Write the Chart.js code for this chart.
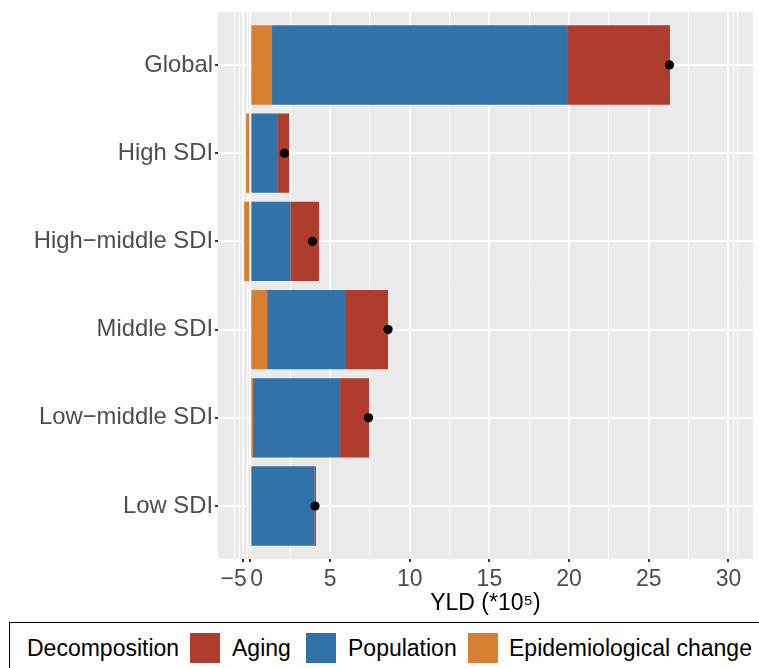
<!DOCTYPE html>
<html>
<head>
<meta charset="utf-8">
<script src="https://cdn.jsdelivr.net/npm/chart.js@4.4.0/dist/chart.umd.min.js"></script>
<style>
  html, body { margin: 0; padding: 0; overflow: hidden; background: #fff; }
  body { font-family: "Liberation Sans", Arial, sans-serif; width: 759px; height: 668px; position: relative; }
  #chart { position: absolute; left: 0; top: 0; }
  #legend { position: absolute; left: 9px; top: 622px; width: 800px; height: 70px;
            border: 1.5px solid #000; box-sizing: border-box; }
  .lg-text { position: absolute; top: 633px; height: 30px; line-height: 30px; font-size: 23px; color: #000; white-space: nowrap; }
  .lg-key { position: absolute; top: 633px; width: 30px; height: 30px; }
</style>
</head>
<body>
<canvas id="chart" width="759" height="620"></canvas>
<div id="legend"></div>
<div class="lg-text" style="left:27px">Decomposition</div>
<div class="lg-key" id="key0" style="left:190px"></div>
<div class="lg-text" style="left:232px">Aging</div>
<div class="lg-key" id="key1" style="left:306px"></div>
<div class="lg-text" style="left:348px">Population</div>
<div class="lg-key" id="key2" style="left:468px"></div>
<div class="lg-text" style="left:509px">Epidemiological change</div>

<script>
// Decomposition of YLD change by SDI region (units: *10^5)
const categories = ['Global', 'High SDI', 'High\u2212middle SDI', 'Middle SDI', 'Low\u2212middle SDI', 'Low SDI'];
const aging = [6.40, 0.75, 1.80, 2.64, 1.82, 0.10];
const population = [18.57, 1.68, 2.51, 4.95, 5.46, 4.02];
const epidemiological = [1.36, -0.27, -0.39, 1.05, 0.17, -0.08];
const totalChange = [26.30, 2.14, 3.90, 8.64, 7.42, 4.06];

// x axis breaks as they appear in the original plot
const xMajor = [-0.45, 0, 5, 10, 15, 20, 25, 30];
const xLabels = ['\u22125', '0', '5', '10', '15', '20', '25', '30'];
const xMinor = [-0.97, -0.7, -0.17, 2.5, 7.5, 12.5, 17.5, 22.5, 27.5, 30.3, 30.55];

const colAging = '#AF3D2E';
const colPop = '#3172A9';
const colEpi = '#D78034';

document.getElementById('key0').style.background = colAging;
document.getElementById('key1').style.background = colPop;
document.getElementById('key2').style.background = colEpi;

const toPoints = arr => arr.map((v, i) => ({ x: v, y: i }));

const panelBg = {
    id: 'panelBg',
    beforeDraw(chart) {
        const { ctx, chartArea: a } = chart;
        ctx.save();
        ctx.fillStyle = '#EBEBEB';
        ctx.fillRect(a.left, a.top, a.right - a.left, a.bottom - a.top);
        ctx.restore();
    }
};

const isMajor = ctx => ctx.tick && xMajor.includes(ctx.tick.value);
const font = { family: '"Liberation Sans", Arial, sans-serif', size: 23 };

new Chart(document.getElementById('chart'), {
    type: 'bar',
    data: {
        datasets: [
            {
                type: 'scatter',
                label: 'Total',
                data: toPoints(totalChange),
                stack: 'dots',
                order: -1,
                pointRadius: 4.6,
                pointBackgroundColor: '#000',
                pointBorderWidth: 0
            },
            { label: 'Epidemiological change', data: toPoints(epidemiological), backgroundColor: colEpi, stack: 'bars' },
            { label: 'Population', data: toPoints(population), backgroundColor: colPop, stack: 'bars' },
            { label: 'Aging', data: toPoints(aging), backgroundColor: colAging, stack: 'bars' }
        ]
    },
    options: {
        indexAxis: 'y',
        responsive: false,
        animation: false,
        layout: { padding: { top: 12, right: 6, left: 0, bottom: 0 } },
        datasets: { bar: { barPercentage: 0.9, categoryPercentage: 1, borderWidth: 0 } },
        plugins: {
            legend: { display: false },
            tooltip: { enabled: false }
        },
        scales: {
            x: {
                type: 'linear',
                min: -2.03,
                max: 31.54,
                stacked: true,
                afterBuildTicks: s => { s.ticks = xMajor.concat(xMinor).map(v => ({ value: v })); },
                ticks: {
                    autoSkip: false,
                    maxRotation: 0,
                    padding: 4,
                    color: '#4D4D4D',
                    font: font,
                    callback: v => {
                        const i = xMajor.indexOf(v);
                        if (i < 0) return '';
                        // the -5 and 0 labels sit side by side, nudge them apart
                        if (i === 0) return xLabels[i] + '\u00a0\u00a0\u00a0';
                        if (i === 1) return '\u00a0\u00a0' + xLabels[i];
                        return xLabels[i];
                    }
                },
                grid: {
                    color: '#fff',
                    lineWidth: ctx => isMajor(ctx) ? 2 : 1,
                    tickLength: 3,
                    tickWidth: 2,
                    tickColor: ctx => isMajor(ctx) ? '#333' : 'rgba(0,0,0,0)'
                },
                border: { display: false },
                title: {
                    display: true,
                    text: 'YLD (*10\u2075)',
                    color: '#000',
                    font: font,
                    padding: { top: 0, bottom: 3 }
                },
                afterFit: s => { s.height = 61; s.paddingLeft = 0; s.paddingRight = 0; }
            },
            y: {
                type: 'linear',
                min: -0.6,
                max: 5.6,
                reverse: true,
                stacked: true,
                offset: false,
                afterBuildTicks: s => { s.ticks = categories.map((c, i) => ({ value: i })); },
                ticks: {
                    autoSkip: false,
                    padding: 2,
                    color: '#4D4D4D',
                    font: { family: '"Liberation Sans", Arial, sans-serif', size: 23.8 },
                    callback: v => categories[v]
                },
                grid: { offset: false, color: '#fff', lineWidth: 2, tickLength: 3, tickWidth: 2, tickColor: '#333' },
                border: { display: false },
                afterFit: s => { s.width = 218; s.paddingTop = 0; s.paddingBottom = 0; }
            }
        }
    },
    plugins: [panelBg]
});
</script>
</body>
</html>
